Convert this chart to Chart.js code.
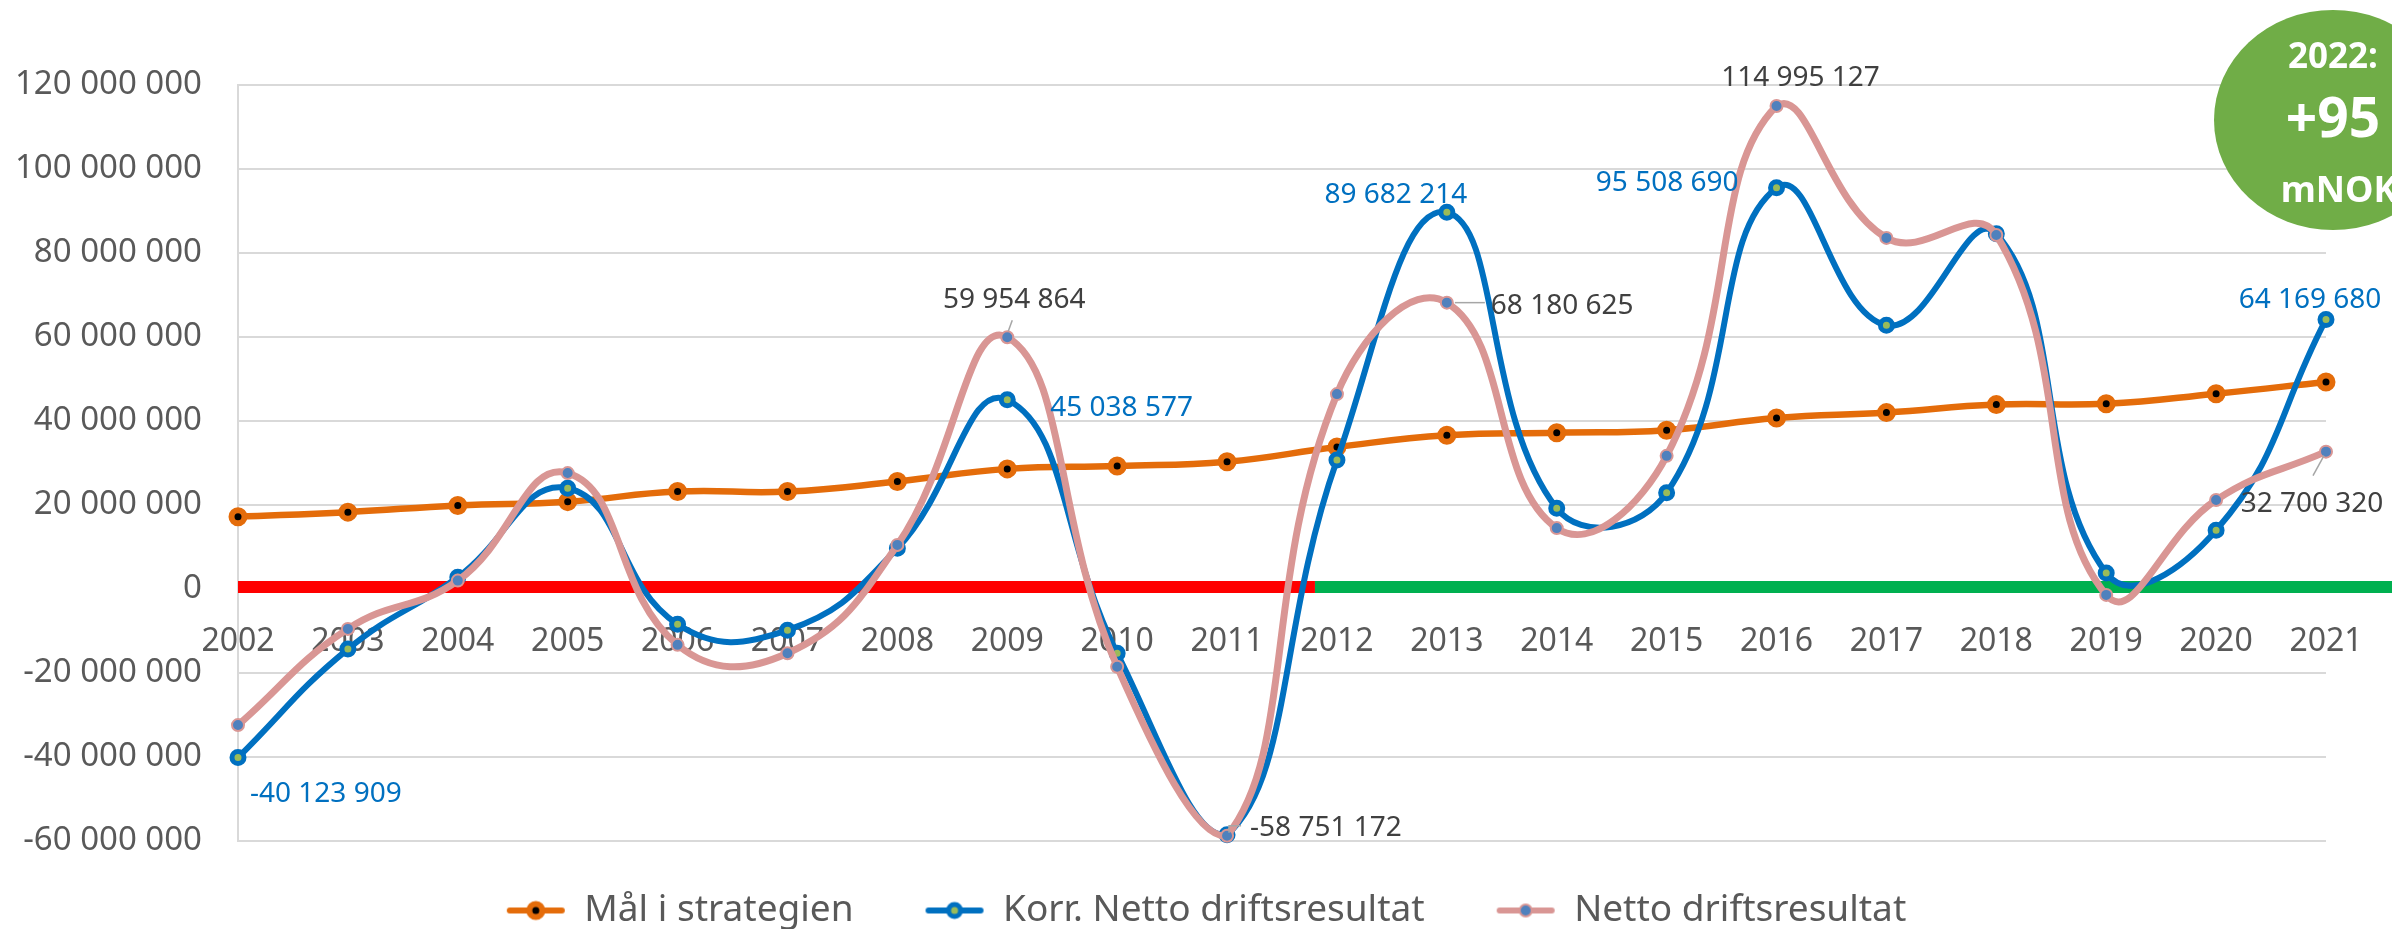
<!DOCTYPE html>
<html>
<head>
<meta charset="utf-8">
<script src="https://cdn.jsdelivr.net/npm/chart.js@4.4.1/dist/chart.umd.min.js"></script>
<style>
  html, body { margin: 0; padding: 0; background: #fff; }
  #wrap { width: 2392px; height: 929px; }
</style>
</head>
<body>
<div id="wrap"><canvas id="chart"></canvas></div>
<script>
const years = ['2002', '2003', '2004', '2005', '2006', '2007', '2008', '2009', '2010', '2011',
               '2012', '2013', '2014', '2015', '2016', '2017', '2018', '2019', '2020', '2021'];

// Mål i strategien
const malStrategi = [17200000, 18300000, 19900000, 20800000, 23200000, 23200000, 25600000, 28600000, 29300000, 30300000,
                     33800000, 36600000, 37200000, 37800000, 40700000, 42000000, 43900000, 44100000, 46500000, 49300000];
// Korr. Netto driftsresultat
const korrNetto = [-40123909, -14300000, 2800000, 24000000, -8400000, -9800000, 9700000, 45038577, -15300000, -58500000,
                   30700000, 89682214, 19200000, 22900000, 95508690, 62800000, 84600000, 3800000, 14000000, 64169680];
// Netto driftsresultat
const netto = [-32400000, -9500000, 2000000, 27600000, -13300000, -15300000, 10500000, 59954864, -18500000, -58751172,
               46400000, 68180625, 14500000, 31700000, 114995127, 83600000, 84300000, -1400000, 21200000, 32700320];

const yTicks = { min: -60000000, max: 120000000, step: 20000000 };
const surplusFrom = 9.8;   // red before, green after (category index)

const badgeLines = ['2022:', '+95', 'mNOK'];

const fmt = v => (v < 0 ? '-' : '') + Math.round(Math.abs(v)).toString().replace(/\B(?=(\d{3})+(?!\d))/g, ' ');

// which points get a value label: [dataset, index, dx, dy, align, leader]
const labelSpecs = [
  [1, 0, 12, 37, 'left', null],
  [2, 7, 7, -37, 'center', [[1, -6], [5, -17]]],
  [1, 7, 43, 8, 'left', null],
  [1, 11, -51, -17, 'center', null],
  [2, 11, 44, 3, 'left', [[8, 0], [38, 0]]],
  [1, 14, -38, -5, 'right', null],
  [2, 14, 24, -28, 'center', null],
  [2, 9, 23, -8, 'left', [[2, -3], [2, -10], [14, -10]]],
  [1, 19, -16, -19, 'center', null],
  [2, 19, -14, 52, 'center', [[-2, 4], [-13, 24]]]
];

const colors = {
  orange: '#E46C0A',
  blue: '#0070C0',
  pink: '#D99694',
  olive: '#9BBB59',
  steel: '#4F81BD',
  red: '#FF0000',
  green: '#00B050',
  badge: '#70AD47',
  grid: '#D9D9D9',
  text: '#595959',
  label: '#404040'
};

Chart.defaults.font.family = "'Noto Sans', sans-serif";
Chart.defaults.color = colors.text;

// legend swatch: line with a marker, drawn in the right part of a wider box
function legendIcon(lineColor, fill, border, radius, bw) {
  const c = document.createElement('canvas');
  c.width = 80; c.height = 24;
  const g = c.getContext('2d');
  g.strokeStyle = lineColor; g.lineWidth = 6; g.lineCap = 'round';
  g.beginPath(); g.moveTo(24, 12); g.lineTo(76, 12); g.stroke();
  g.beginPath(); g.arc(50, 12, radius, 0, Math.PI * 2);
  g.fillStyle = fill; g.fill();
  g.lineWidth = bw; g.strokeStyle = border; g.stroke();
  return c;
}
const legendIcons = [
  legendIcon(colors.orange, '#000', colors.orange, 6.5, 6),
  legendIcon(colors.blue, colors.olive, colors.blue, 6, 5),
  legendIcon(colors.pink, colors.steel, colors.pink, 6, 2)
];

const zeroLine = {
  id: 'zeroLine',
  beforeDatasetsDraw(chart) {
    const { ctx, chartArea, scales: { x, y } } = chart;
    const y0 = y.getPixelForValue(0) - 2;
    const xs = x.getPixelForValue(surplusFrom);
    ctx.save();
    ctx.lineWidth = 12;
    ctx.strokeStyle = colors.red;
    ctx.beginPath(); ctx.moveTo(chartArea.left, y0); ctx.lineTo(xs, y0); ctx.stroke();
    ctx.strokeStyle = colors.green;
    ctx.beginPath(); ctx.moveTo(xs, y0); ctx.lineTo(chart.width, y0); ctx.stroke();
    ctx.restore();
  }
};

const valueLabels = {
  id: 'valueLabels',
  afterDatasetsDraw(chart) {
    const { ctx } = chart;
    ctx.save();
    ctx.font = "28px 'Noto Sans', sans-serif";
    ctx.textBaseline = 'middle';
    labelSpecs.forEach(([ds, i, dx, dy, align, leader]) => {
      const pt = chart.getDatasetMeta(ds).data[i];
      const v = chart.data.datasets[ds].data[i];
      if (leader) {
        ctx.strokeStyle = '#A6A6A6';
        ctx.lineWidth = 1.5;
        ctx.beginPath();
        leader.forEach(([lx, ly], k) => k ? ctx.lineTo(pt.x + lx, pt.y + ly) : ctx.moveTo(pt.x + lx, pt.y + ly));
        ctx.stroke();
      }
      ctx.fillStyle = ds === 1 ? colors.blue : colors.label;
      ctx.textAlign = align;
      ctx.fillText(fmt(v), pt.x + dx, pt.y + dy);
    });
    ctx.restore();
  }
};

const badge = {
  id: 'badge',
  afterDraw(chart) {
    const { ctx } = chart;
    const cx = 2333, cy = 120;
    ctx.save();
    ctx.fillStyle = colors.badge;
    ctx.beginPath(); ctx.ellipse(cx, cy, 119, 110, 0, 0, Math.PI * 2); ctx.fill();
    ctx.fillStyle = '#fff';
    ctx.textAlign = 'center';
    ctx.textBaseline = 'middle';
    ctx.font = "bold 35px 'Noto Sans', sans-serif";
    ctx.fillText(badgeLines[0], cx, 58);
    ctx.font = "bold 55px 'Noto Sans', sans-serif";
    ctx.fillText(badgeLines[1], cx, 121);
    ctx.font = "bold 36px 'Noto Sans', sans-serif";
    ctx.fillText(badgeLines[2], cx + 6, 192);
    ctx.restore();
  }
};

const lineDefaults = { tension: 0.45, fill: false, clip: false };

new Chart(document.getElementById('chart'), {
  type: 'line',
  data: {
    labels: years,
    datasets: [
      {
        ...lineDefaults,
        label: 'Mål i strategien',
        data: malStrategi,
        borderColor: colors.orange,
        borderWidth: 6.5,
        pointRadius: 6.5,
        pointBorderWidth: 6,
        pointBackgroundColor: '#000',
        pointBorderColor: colors.orange,
        order: 3
      },
      {
        ...lineDefaults,
        label: 'Korr. Netto driftsresultat',
        data: korrNetto,
        borderColor: colors.blue,
        borderWidth: 6,
        pointRadius: 6,
        pointBorderWidth: 5,
        pointBackgroundColor: colors.olive,
        pointBorderColor: colors.blue,
        order: 2
      },
      {
        ...lineDefaults,
        label: 'Netto driftsresultat',
        data: netto,
        borderColor: colors.pink,
        borderWidth: 7,
        pointRadius: 6,
        pointBorderWidth: 2,
        pointBackgroundColor: colors.steel,
        pointBorderColor: colors.pink,
        order: 1
      }
    ]
  },
  options: {
    responsive: true,
    maintainAspectRatio: false,
    devicePixelRatio: 1,
    animation: false,
    layout: { padding: { top: 85, right: 0, bottom: -10, left: 0 } },
    scales: {
      x: {
        position: { y: 0 },
        offset: false,
        grid: { display: false },
        border: { display: false },
        ticks: { font: { size: 32 }, color: colors.text, padding: 26, maxRotation: 0, autoSkip: false }
      },
      y: {
        min: yTicks.min,
        max: yTicks.max,
        afterFit: scale => { scale.width = 238; },
        grid: { color: colors.grid, lineWidth: 2, drawTicks: false },
        border: { display: true, color: colors.grid, width: 2 },
        ticks: {
          stepSize: yTicks.step,
          font: { size: 33 },
          color: colors.text,
          padding: 36,
          callback: v => fmt(v)
        }
      },
      // empty right margin beside the plot
      yRight: {
        type: 'linear',
        position: 'right',
        grid: { display: false },
        border: { display: false },
        ticks: { display: false },
        afterFit: scale => { scale.width = 66; }
      }
    },
    plugins: {
      tooltip: { enabled: false },
      legend: {
        position: 'bottom',
        labels: {
          usePointStyle: true,
          pointStyleWidth: 80,
          padding: 51,
          font: { size: 37 },
          color: colors.text,
          generateLabels: chart => chart.data.datasets.map((ds, i) => ({
            text: ds.label,
            pointStyle: legendIcons[i],
            fillStyle: ds.borderColor,
            strokeStyle: ds.borderColor,
            lineWidth: 0,
            hidden: false,
            datasetIndex: i,
            fontColor: colors.text
          }))
        }
      }
    }
  },
  plugins: [zeroLine, valueLabels, badge]
});
</script>
</body>
</html>
